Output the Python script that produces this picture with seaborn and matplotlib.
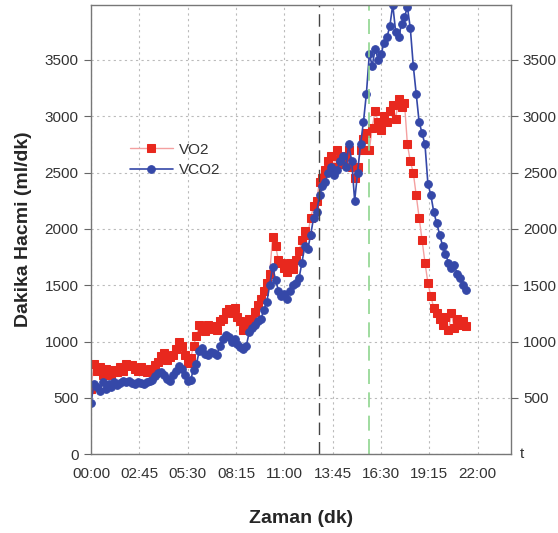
import numpy as np
import pandas as pd
import matplotlib
matplotlib.use("Agg")
import matplotlib.pyplot as plt
from matplotlib.ticker import FuncFormatter
import seaborn as sns

# one row = one minute, samples every 10 s
vo2 = [580, 800, 740, 770, 700, 760,
       720, 700, 750, 730, 770, 740,
       800, 780, 790, 760, 740, 770,
       740, 730, 760, 750, 790, 820,
       870, 900, 840, 860, 880, 930,
       1000, 960, 880, 810, 850, 960,
       1050, 1150, 1120, 1090, 1150, 1110,
       1140, 1100, 1180, 1200, 1260, 1290,
       1250, 1300, 1220, 1180, 1100, 1130,
       1200, 1180, 1260, 1320, 1380, 1450,
       1520, 1600, 1930, 1850, 1720, 1700,
       1650, 1620, 1700, 1640, 1720, 1800,
       1900, 1980, 1950, 2100, 2200, 2250,
       2420, 2450, 2520, 2600, 2650, 2550,
       2700, 2620, 2580, 2650, 2700, 2550,
       2450, 2550, 2700, 2800, 2850, 2700,
       2900, 3050, 2950, 2880, 3000, 2950,
       3050, 3100, 2980, 3150, 3080, 3120,
       2750, 2600, 2500, 2300, 2100, 1900,
       1700, 1520, 1400, 1300, 1250, 1200,
       1150, 1220, 1100, 1250, 1120, 1200,
       1150, 1180, 1140]

vco2 = [450, 620, 600, 560, 640, 580,
        620, 600, 640, 610, 630, 650,
        640, 650, 630, 620, 640, 630,
        620, 640, 650, 660, 690, 720,
        730, 700, 670, 650, 700, 740,
        780, 760, 700, 650, 660, 750,
        800, 920, 940, 890, 880, 910,
        900, 880, 960, 1020, 1060, 1040,
        1000, 1020, 980, 950, 930, 960,
        1080, 1120, 1150, 1180, 1200, 1280,
        1350, 1500, 1660, 1550, 1450, 1400,
        1420, 1380, 1450, 1500, 1520, 1560,
        1700, 1850, 1820, 1950, 2100, 2150,
        2300, 2380, 2420, 2500, 2550, 2480,
        2520, 2600, 2650, 2550, 2750, 2600,
        2250, 2500, 2750, 2950, 3200, 3550,
        3450, 3600, 3500, 3550, 3650, 3700,
        3800, 3990, 3750, 3700, 3820, 3880,
        3970, 3780, 3450, 3200, 2950, 2850,
        2750, 2400, 2300, 2150, 2050, 1950,
        1850, 1780, 1700, 1650, 1680, 1600,
        1560, 1500, 1460]

time_min = [i / 6 for i in range(len(vo2))]

x_ticks = [0, 2.75, 5.5, 8.25, 11, 13.75, 16.5, 19.25, 22]
y_ticks = [0, 500, 1000, 1500, 2000, 2500, 3000, 3500]
marker_lines = {"black": 12.95, "green": 15.8}

df = pd.DataFrame({"t": time_min, "VO2": vo2, "VCO2": vco2})

sns.set_style("white")
plt.rcParams["font.family"] = ["Liberation Sans", "DejaVu Sans"]

fig = plt.figure(figsize=(5.58, 5.33), dpi=100)
ax = fig.add_axes([0.163, 0.148, 0.753, 0.843])

red = "#e8281e"
blue = "#3548a8"

sns.lineplot(data=df, x="t", y="VO2", ax=ax, color="#f4a0a0", lw=1.0,
             marker="s", markersize=5.5, markerfacecolor=red, markeredgecolor=red,
             label="VO2", estimator=None)
sns.lineplot(data=df, x="t", y="VCO2", ax=ax, color=blue, lw=1.2,
             marker="o", markersize=5.5, markerfacecolor=blue, markeredgecolor=blue,
             label="VCO2", estimator=None)

ax.axvline(marker_lines["black"], color="#444444", lw=1.0, dashes=(9, 5))
ax.axvline(marker_lines["green"], color="#8fd68f", lw=1.2, dashes=(9, 5))

ax.set_xlim(0, 23.9)
ax.set_ylim(0, 3990)
ax.set_xticks(x_ticks)
ax.xaxis.set_major_formatter(FuncFormatter(
    lambda v, p: f"{int(round(v * 60)) // 60:02d}:{int(round(v * 60)) % 60:02d}"))
ax.set_yticks(y_ticks)
ax.grid(True, color="#bbbbbb", ls=(0, (2, 3)), lw=0.8)
ax.tick_params(axis="both", direction="out", length=5, width=0.8,
               color="#666666", labelsize=11, labelcolor="#333333", pad=4)
for s in ax.spines.values():
    s.set_color("#777777")
    s.set_linewidth(1.0)

ax.set_xlabel("Zaman (dk)", fontsize=14, fontweight="bold", labelpad=21)
ax.set_ylabel("Dakika Hacmi (ml/dk)", fontsize=14, fontweight="bold", labelpad=9)

ax2 = ax.twinx()
ax2.set_ylim(ax.get_ylim())
ax2.set_yticks(y_ticks[1:])
ax2.tick_params(axis="y", direction="out", length=5, width=0.8,
                color="#666666", labelsize=11, labelcolor="#333333")
for s in ax2.spines.values():
    s.set_visible(False)

leg = ax.legend(loc="center left", bbox_to_anchor=(0.06, 0.655), frameon=False,
                fontsize=11, handlelength=2.8, labelspacing=0.4, handletextpad=0.4)
for t in leg.get_texts():
    t.set_color("#333333")

fig.text(0.932, 0.148, "t", fontsize=11, color="#333333", va="center")

fig.savefig("out.png", dpi=100)
